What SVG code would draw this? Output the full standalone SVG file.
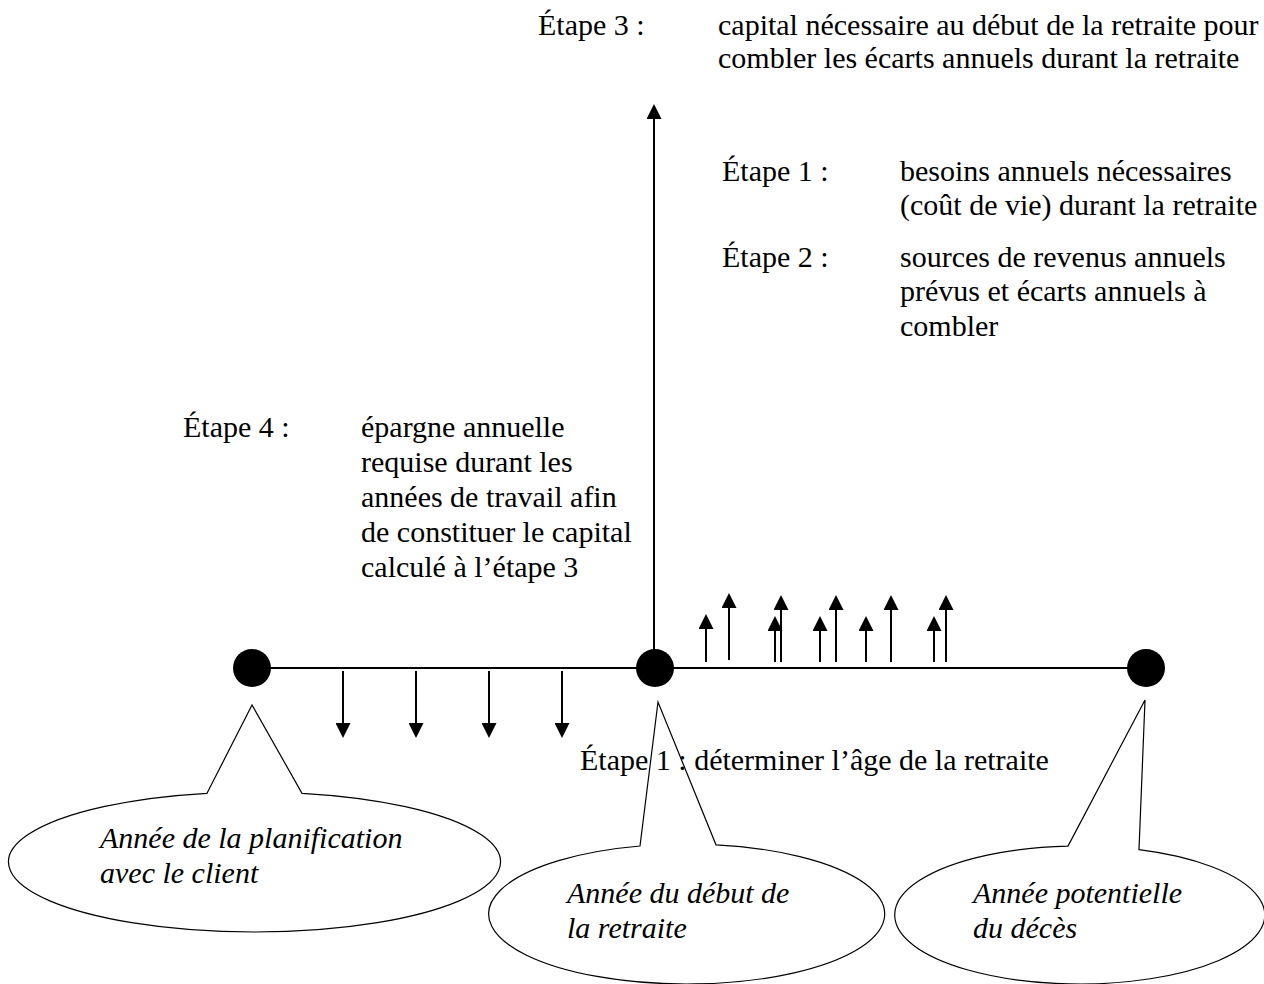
<svg xmlns="http://www.w3.org/2000/svg" width="1264" height="984" viewBox="0 0 1264 984">
<style>
text{font-family:"Liberation Serif","Times New Roman",serif;font-size:30px;fill:#000}
.it{font-style:italic}
.ln{stroke:#000;stroke-width:2;fill:none}
.ar{stroke:#000;stroke-width:2;fill:none;marker-end:url(#ah)}
.co{stroke:#000;stroke-width:1.2;fill:#fff}
</style>
<defs>
<marker id="ah" markerUnits="userSpaceOnUse" viewBox="0 0 15 15" markerWidth="15" markerHeight="15" refX="1" refY="7.5" orient="auto">
<path d="M0,0 L15,7.5 L0,15 Z" fill="#000"/>
</marker>
</defs>
<rect width="1264" height="984" fill="#fff"/>
<g id="connectors">
<line class="ln" x1="252" y1="668" x2="1146" y2="668"/>
<line class="ar" x1="654" y1="668" x2="654" y2="118"/>
<line class="ar" x1="343" y1="671" x2="343" y2="724"/>
<line class="ar" x1="416" y1="671" x2="416" y2="724"/>
<line class="ar" x1="489" y1="671" x2="489" y2="724"/>
<line class="ar" x1="562" y1="671" x2="562" y2="724"/>
<line class="ar" x1="706" y1="662" x2="706" y2="628"/>
<line class="ar" x1="729" y1="660" x2="729" y2="607"/>
<line class="ar" x1="775" y1="662" x2="775" y2="630"/>
<line class="ar" x1="781" y1="662" x2="781" y2="609"/>
<line class="ar" x1="820" y1="662" x2="820" y2="630"/>
<line class="ar" x1="836" y1="662" x2="836" y2="609"/>
<line class="ar" x1="866" y1="662" x2="866" y2="630"/>
<line class="ar" x1="891" y1="662" x2="891" y2="609"/>
<line class="ar" x1="934" y1="662" x2="934" y2="630"/>
<line class="ar" x1="946" y1="662" x2="946" y2="609"/>
</g>
<g id="dot-planification"><circle cx="252" cy="668" r="19" fill="#000"/></g>
<g id="dot-retraite"><circle cx="655" cy="668" r="19" fill="#000"/></g>
<g id="dot-deces"><circle cx="1146" cy="668" r="19" fill="#000"/></g>
<g id="callout-planification">
<path class="co" d="M207,793.3 L252,705 L302,793.3 A246,70 0 1 1 207,793.3 Z"/>
<text class="it" x="100" y="848">Année de la planification</text>
<text class="it" x="100" y="883">avec le client</text>
</g>
<g id="callout-retraite">
<path class="co" d="M640,846 L658,702 L716,844.8 A198,70 0 1 1 640,846 Z"/>
<text class="it" x="567" y="903">Année du début de</text>
<text class="it" x="567" y="938">la retraite</text>
</g>
<g id="callout-deces">
<path class="co" d="M1068,846.1 L1145,700 L1139,849.6 A185,69 0 1 1 1068,846.1 Z"/>
<text class="it" x="973" y="903">Année potentielle</text>
<text class="it" x="973" y="938">du décès</text>
</g>
<g id="etape3">
<text x="538" y="35">Étape 3 :</text>
<text x="718" y="35">capital nécessaire au début de la retraite pour</text>
<text x="718" y="68">combler les écarts annuels durant la retraite</text>
</g>
<g id="etape1">
<text x="722" y="181">Étape 1 :</text>
<text x="900" y="181">besoins annuels nécessaires</text>
<text x="900" y="215">(coût de vie) durant la retraite</text>
</g>
<g id="etape2">
<text x="722" y="267">Étape 2 :</text>
<text x="900" y="267">sources de revenus annuels</text>
<text x="900" y="301">prévus et écarts annuels à</text>
<text x="900" y="336">combler</text>
</g>
<g id="etape4">
<text x="183" y="437">Étape 4 :</text>
<text x="361" y="437">épargne annuelle</text>
<text x="361" y="472">requise durant les</text>
<text x="361" y="507">années de travail afin</text>
<text x="361" y="542">de constituer le capital</text>
<text x="361" y="577">calculé à l’étape 3</text>
</g>
<g id="etape1-age">
<text x="580" y="770">Étape 1 : déterminer l’âge de la retraite</text>
</g>
</svg>
